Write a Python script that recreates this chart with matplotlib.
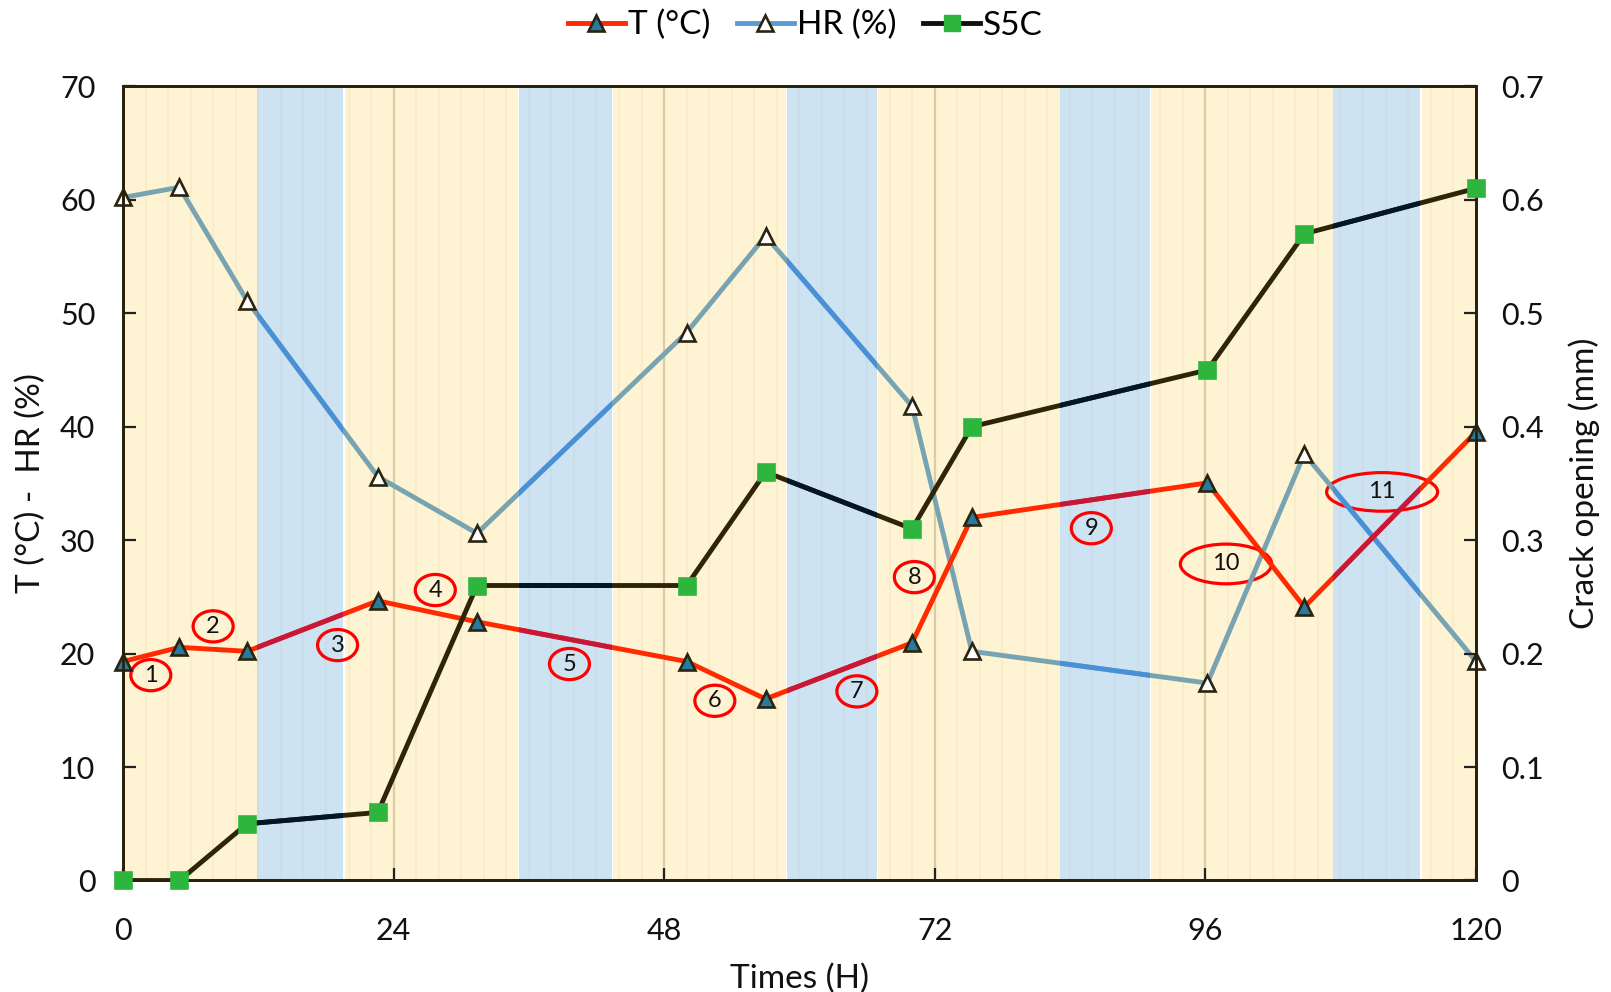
import matplotlib
matplotlib.use("Agg")
import matplotlib.pyplot as plt
from matplotlib.patches import Ellipse, Rectangle
from matplotlib.lines import Line2D

plt.rcParams['font.family'] = ['Lato', 'DejaVu Sans']

# ---------------- data ----------------
times = [0, 5, 11, 22.6, 31.4, 50, 57, 70, 75.3, 96.2, 104.8, 120]
temperature = [19.3, 20.55, 20.2, 24.65, 22.8, 19.3, 16.0, 20.95, 32.0, 35.05, 24.1, 39.5]
humidity = [60.2, 61.1, 51.1, 35.6, 30.6, 48.3, 56.8, 41.8, 20.2, 17.4, 37.6, 19.35]
crack_s5c = [0, 0, 0.05, 0.06, 0.26, 0.26, 0.36, 0.31, 0.40, 0.45, 0.57, 0.61]

night_bands = [(11.85, 19.5), (35.1, 43.4), (58.9, 66.9), (83.1, 91.1), (107.3, 115.1)]
day_bands = [(0, 11.85), (19.7, 35.0), (43.5, 58.8), (67.0, 83.1), (91.2, 107.3), (115.2, 120)]

labels = ['1', '2', '3', '4', '5', '6', '7', '8', '9', '10', '11']
label_x = [2.46, 7.99, 19.03, 27.7, 39.6, 52.5, 65.1, 70.2, 85.9, 97.85, 111.7]
label_y = [18.1, 22.4, 20.75, 25.6, 19.08, 15.84, 16.67, 26.74, 31.05, 27.9, 34.25]
label_w = [3.55, 3.55, 3.55, 3.55, 3.55, 3.55, 3.55, 3.55, 3.55, 8.1, 9.85]
label_h = [2.75, 2.75, 2.75, 2.75, 2.75, 2.75, 2.75, 2.75, 2.75, 3.5, 3.4]

x_ticks = [0, 24, 48, 72, 96, 120]

# ---------------- figure ----------------
fig = plt.figure(figsize=(16.11, 9.92), dpi=100)
ax = fig.add_axes([0.0764, 0.1124, 0.8396, 0.8006])
ax2 = ax.twinx()

ax.set_xlim(0, 120)
ax.set_ylim(0, 70)
ax2.set_ylim(0, 0.7)

YELLOW = '#fef3d2'
BLUE = '#cee3f2'
for a, b in day_bands:
    ax.axvspan(a, b, color=YELLOW, lw=0, zorder=0)
for a, b in night_bands:
    ax.axvspan(a, b, color=BLUE, lw=0, zorder=0)

# thin 2-hour lines
for h in range(2, 120, 2):
    if h % 24 == 0:
        ax.axvline(h, color='#dacda6', lw=1.6, zorder=0.5)
    else:
        ax.axvline(h, color=(0.55, 0.45, 0.2, 0.05), lw=1.6, zorder=0.5)

# annotations (ellipses + numbers)
for t, x, y, w, h in zip(labels, label_x, label_y, label_w, label_h):
    ax.add_patch(Ellipse((x, y), w, h, fill=False, edgecolor='#ff0000', lw=2.3, zorder=1))
    ax.text(x, y, t, ha='center', va='center', fontsize=17, color='#111111', zorder=1.1)

LW = 3.5
# series with colour change in night bands
def draw_series(axis, x, y, day_color, night_color, marker, mfc, mec, ms, z):
    axis.plot(x, y, color=day_color, lw=LW, zorder=z, solid_capstyle='butt')
    ylo, yhi = axis.get_ylim()
    for a, b in night_bands:
        ln, = axis.plot(x, y, color=night_color, lw=LW, zorder=z + 0.01, solid_capstyle='butt')
        ln.set_clip_path(Rectangle((a, ylo), b - a, yhi - ylo, transform=axis.transData))
    axis.plot(x, y, ls='none', marker=marker, mfc=mfc, mec=mec, ms=ms, mew=1.9,
              zorder=z + 0.02, clip_on=False)

draw_series(ax, times, humidity, '#77a3b3', '#4a90d9', '^', 'white', '#2b2410', 11, 2)
draw_series(ax, times, temperature, '#ff2a00', '#c8183a', '^', '#2a7aa0', '#2b2410', 11, 3)
draw_series(ax2, times, crack_s5c, '#2e2408', '#021628', 's', '#2db53e', '#2db53e', 11, 4)

# axes styling
ax.set_xticks(x_ticks)
ax.set_yticks(range(0, 71, 10))
ax2.set_yticks([i / 10 for i in range(0, 8)])
ax2.set_yticklabels(['0'] + [f'{i/10:.1f}' for i in range(1, 8)])

for a in (ax, ax2):
    a.tick_params(direction='in', length=9, width=1.6, colors='#222222', labelsize=22,
                  labelcolor='#111111')
    for s in a.spines.values():
        s.set_color('#2a2208')
        s.set_linewidth(2.0)
ax.tick_params(axis='x', pad=26)
ax.tick_params(axis='y', pad=20)
ax2.tick_params(axis='y', pad=18)

ax.set_xlabel('Times (H)', fontsize=24, color='#111111', labelpad=14)
ax.set_ylabel('T (°C) -  HR (%)', fontsize=24, color='#111111', labelpad=10)
ax2.set_ylabel('Crack opening (mm)', fontsize=24, color='#111111', labelpad=18)

handles = [
    Line2D([], [], color='#ff2a00', lw=LW, marker='^', mfc='#2a7aa0', mec='#2b2410', ms=11, mew=1.9),
    Line2D([], [], color='#5b9bd5', lw=LW, marker='^', mfc='white', mec='#2b2410', ms=11, mew=1.9),
    Line2D([], [], color='#111111', lw=LW, marker='s', mfc='#2db53e', mec='#2db53e', ms=11),
]
fig.legend(handles, ['T (°C)', 'HR (%)', 'S5C'], loc='upper center', bbox_to_anchor=(0.5, 1.02),
           ncol=3, frameon=False, fontsize=24, handlelength=1.7, handletextpad=0.1,
           columnspacing=0.8)

fig.savefig('out.png', dpi=100)
